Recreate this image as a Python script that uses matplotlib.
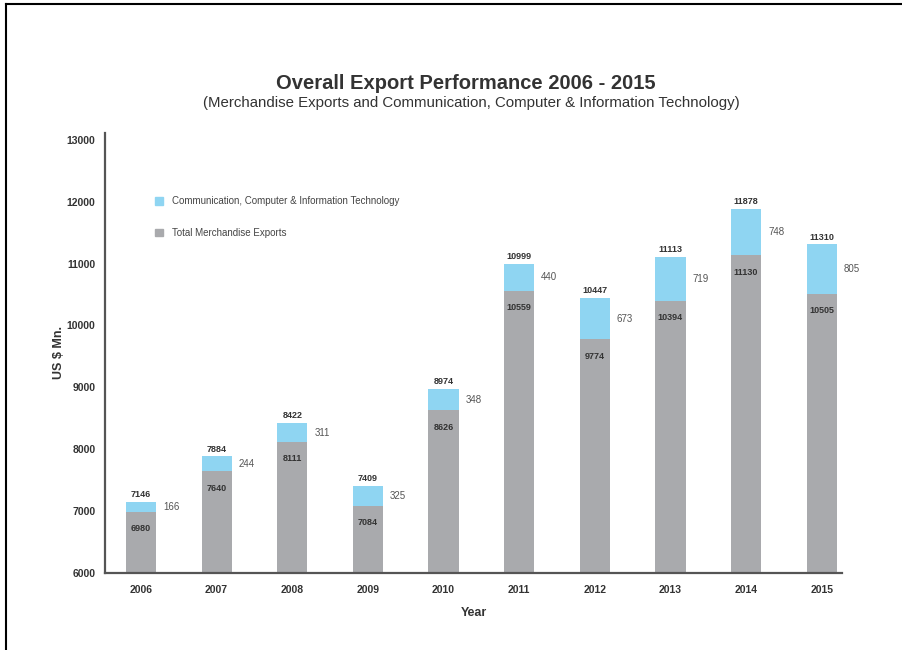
import matplotlib
matplotlib.use("Agg")
import matplotlib.pyplot as plt
from matplotlib.patches import Patch
from matplotlib.lines import Line2D

years = ["2006", "2007", "2008", "2009", "2010", "2011", "2012", "2013", "2014", "2015"]
merch = [6980, 7640, 8111, 7084, 8626, 10559, 9774, 10394, 11130, 10505]
ccit = [166, 244, 311, 325, 348, 440, 673, 719, 748, 805]
totals = [7146, 7884, 8422, 7409, 8974, 10999, 10447, 11113, 11878, 11310]
yticks = [6000, 7000, 8000, 9000, 10000, 11000, 12000, 13000]

grey = "#a9aaad"
blue = "#8fd5f2"
dark = "#333333"

plt.rcParams['font.family'] = ['Liberation Sans', 'DejaVu Sans']

fig = plt.figure(figsize=(9.03, 6.5), dpi=100)
ax = fig.add_axes([0.1163, 0.1185, 0.8162, 0.677])

x = list(range(len(years)))
w = 0.4
ax.bar(x, [m - 6000 for m in merch], bottom=6000, width=w, color=grey, label="Total Merchandise Exports")
ax.bar(x, ccit, bottom=merch, width=w, color=blue, label="Communication, Computer & Information Technology")

ax.set_ylim(6000, 13110)
ax.set_xlim(-0.476, 9.27)

for i in x:
    ax.annotate(str(totals[i]), (i, merch[i] + ccit[i]), xytext=(0, 2), textcoords="offset points",
                ha="center", va="bottom", fontsize=6.5, fontweight="bold", color=dark)
    ax.annotate(str(merch[i]), (i, merch[i]), xytext=(0, -12), textcoords="offset points",
                ha="center", va="center", fontsize=6.5, fontweight="bold", color=dark)
    ax.annotate(str(ccit[i]), (i + w / 2, merch[i] + ccit[i] / 2), xytext=(5, 0), textcoords="offset points",
                ha="left", va="center", fontsize=7, color="#555555")

ax.set_xticks(x)
ax.set_xticklabels(years, fontsize=7.5, fontweight="bold", color=dark)
ax.set_yticks(yticks)
ax.set_yticklabels([str(v) for v in yticks], fontsize=7.5, fontweight="bold", color=dark)
ax.tick_params(axis="both", length=0)
ax.tick_params(axis="x", pad=9)
ax.tick_params(axis="y", pad=7)

for s in ["top", "right"]:
    ax.spines[s].set_visible(False)
for s in ["left", "bottom"]:
    ax.spines[s].set_color("#555555")
    ax.spines[s].set_linewidth(1.6)

ax.set_xlabel("Year", fontsize=9, fontweight="bold", color=dark, labelpad=8)
ax.set_ylabel("US $ Mn.", fontsize=9, fontweight="bold", color=dark, labelpad=1)

handles = [Patch(color=blue), Patch(color=grey)]
labels = ["Communication, Computer & Information Technology", "Total Merchandise Exports"]
leg = ax.legend(handles, labels, loc="upper left", bbox_to_anchor=(0.056, 0.876), frameon=False,
                fontsize=7, handlelength=0.8, handleheight=0.8, labelspacing=2.25, handletextpad=0.9)
for t in leg.get_texts():
    t.set_color("#444444")

fig.text(0.516, 0.872, "Overall Export Performance 2006 - 2015", ha="center", va="center",
         fontsize=14.5, fontweight="bold", color=dark)
fig.text(0.522, 0.841, "(Merchandise Exports and Communication, Computer & Information Technology)",
         ha="center", va="center", fontsize=10.8, color=dark)

# outer frame lines (left and top)
fig.add_artist(Line2D([0.0066, 0.0066], [0, 0.994], transform=fig.transFigure, color="black", lw=1.5))
fig.add_artist(Line2D([0.0066, 1.0], [0.994, 0.994], transform=fig.transFigure, color="black", lw=1.5))

fig.savefig("out.png", dpi=100)
